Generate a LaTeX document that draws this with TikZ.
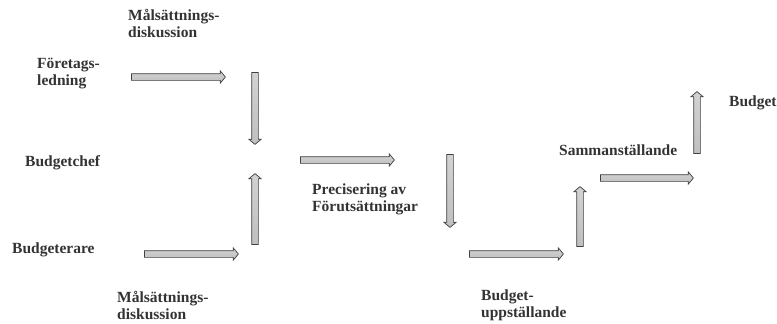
\documentclass[tikz,border=0pt]{standalone}
\usepackage{fontspec}
\setmainfont{Liberation Serif}
\usetikzlibrary{shapes.arrows}
\begin{document}
\begin{tikzpicture}[x=1pt,y=-1pt,
  lbl/.style={inner sep=0pt, align=left, anchor=west, font=\fontsize{15.5}{17}\selectfont\bfseries, text=black!80},
  blk/.style={single arrow, draw=gray!50!black, line width=0.7pt, top color=gray!35, middle color=gray!5, bottom color=gray!50,
    inner xsep=0pt, inner ysep=3pt, text height=0pt, text depth=0pt, font=\tiny,
    single arrow head extend=2.8pt, single arrow tip angle=100,
    minimum height=#1}]
\useasboundingbox (0,0) rectangle (777,324);
% labels
\node[lbl] (m1) at (128,23.5) {Målsättnings-\\diskussion};
\node[lbl] (fl) at (37,74) {Företags-\\ledning};
\node[lbl] (bc) at (25,163) {Budgetchef};
\node[lbl] (br) at (12,250) {Budgeterare};
\node[lbl] (m2) at (117,305) {Målsättnings-\\diskussion};
\node[lbl] (pf) at (312,199.5) {Precisering av\\Förutsättningar};
\node[lbl] (bu) at (481,305) {Budget-\\uppställande};
\node[lbl] (sa) at (559,150) {Sammanställande};
\node[lbl] (bg) at (729,103) {Budget};
% arrows
\node[blk=94pt] (a1) at (177,77) {};
\node[blk=72pt, rotate=-90] (a2) at (255,107) {};
\node[blk=71pt, rotate=90] (a3) at (255,210.5) {};
\node[blk=94pt] (a4) at (190,254) {};
\node[blk=94pt] (a5) at (346,160) {};
\node[blk=73pt, rotate=-90] (a6) at (450,189.5) {};
\node[blk=94pt] (a7) at (515,254) {};
\node[blk=60pt, rotate=90] (a8) at (580,218) {};
\node[blk=93pt] (a9) at (645.5,178) {};
\node[blk=62pt, rotate=90] (a10) at (697,124) {};
\end{tikzpicture}
\end{document}
